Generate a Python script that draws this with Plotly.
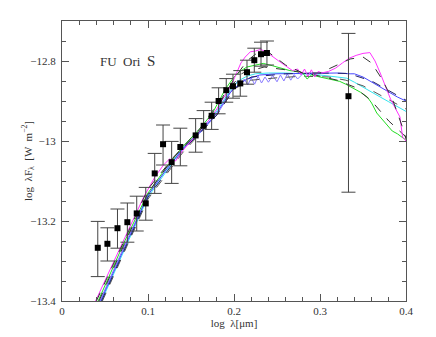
import plotly.graph_objects as go

# observed photometry
obs_x = [0.0416, 0.0528, 0.0645, 0.076, 0.0869, 0.0974, 0.1078, 0.1175, 0.1275, 0.1376,
         0.1554, 0.1647, 0.174, 0.1821, 0.191, 0.1988, 0.2073, 0.2151, 0.2236, 0.2314, 0.2383, 0.3331]
obs_y = [-13.267, -13.257, -13.218, -13.203, -13.181, -13.156, -13.081, -13.008, -13.053, -13.015,
         -12.986, -12.962, -12.937, -12.900, -12.873, -12.863, -12.856, -12.828, -12.798, -12.783, -12.780, -12.888]
err_up = [0.066, 0.040, 0.048, 0.048, 0.043, 0.040, 0.050, 0.048, 0.052, 0.047,
          0.042, 0.038, 0.034, 0.033, 0.029, 0.030, 0.032, 0.030, 0.030, 0.030, 0.030, 0.157]
err_dn = [0.072, 0.043, 0.050, 0.050, 0.044, 0.042, 0.050, 0.052, 0.053, 0.047,
          0.042, 0.040, 0.034, 0.032, 0.030, 0.030, 0.032, 0.030, 0.030, 0.030, 0.030, 0.240]

# model SEDs
mag_x = [0.039, 0.071, 0.095, 0.108, 0.118, 0.125, 0.132, 0.14, 0.15, 0.16, 0.17, 0.18, 0.19, 0.197,
         0.203, 0.208, 0.213, 0.219, 0.225, 0.231, 0.238, 0.245, 0.252, 0.26, 0.268, 0.274, 0.278,
         0.282, 0.286, 0.29, 0.294, 0.298, 0.302, 0.31, 0.318, 0.326, 0.334, 0.342, 0.35, 0.358,
         0.364, 0.37, 0.376, 0.382, 0.388, 0.393, 0.396, 0.4]
mag_y = [-13.4, -13.25, -13.14, -13.09, -13.06, -13.045, -13.05, -13.025, -13.0, -12.975, -12.95,
         -12.92, -12.885, -12.86, -12.83, -12.805, -12.79, -12.777, -12.775, -12.771, -12.778, -12.79,
         -12.8, -12.812, -12.824, -12.82, -12.835, -12.82, -12.838, -12.822, -12.84, -12.826, -12.83,
         -12.826, -12.818, -12.805, -12.793, -12.786, -12.781, -12.779, -12.8, -12.83, -12.865,
         -12.895, -12.92, -12.94, -12.99, -13.0]
mag_mx = [0.04, 0.072, 0.1, 0.13, 0.16, 0.185, 0.2, 0.215, 0.228, 0.24, 0.26, 0.28, 0.3, 0.32,
          0.335, 0.35, 0.36, 0.372, 0.385, 0.395, 0.4]
mag_my = [-13.4, -13.25, -13.12, -13.04, -12.975, -12.9, -12.845, -12.8, -12.778, -12.778, -12.81,
          -12.83, -12.83, -12.81, -12.795, -12.79, -12.805, -12.845, -12.9, -12.96, -12.995]

grn_x = [0.042, 0.073, 0.1, 0.12, 0.14, 0.16, 0.175, 0.19, 0.2, 0.207, 0.215, 0.225, 0.234, 0.245,
         0.254, 0.265, 0.273, 0.28, 0.285, 0.29, 0.3, 0.31, 0.323, 0.33, 0.339, 0.347, 0.355, 0.36,
         0.366, 0.372, 0.378, 0.384, 0.39, 0.395, 0.4]
grn_y = [-13.4, -13.25, -13.13, -13.07, -13.015, -12.97, -12.93, -12.87, -12.84, -12.826, -12.815,
         -12.81, -12.806, -12.812, -12.818, -12.824, -12.826, -12.83, -12.845, -12.835, -12.84,
         -12.845, -12.851, -12.858, -12.868, -12.878, -12.89, -12.905, -12.93, -12.945, -12.962,
         -12.975, -12.982, -12.99, -12.998]
grn_mx = [0.043, 0.074, 0.1, 0.13, 0.16, 0.19, 0.21, 0.235, 0.26, 0.29, 0.32, 0.34, 0.36, 0.38, 0.4]
grn_my = [-13.4, -13.25, -13.13, -13.04, -12.97, -12.88, -12.83, -12.815, -12.822, -12.833, -12.848,
          -12.865, -12.9, -12.95, -12.99]

blu_x = [0.045, 0.076, 0.1, 0.12, 0.14, 0.16, 0.18, 0.195, 0.205, 0.215, 0.23, 0.25, 0.27, 0.3, 0.32,
         0.335, 0.34, 0.35, 0.36, 0.37, 0.38, 0.39, 0.4]
blu_y = [-13.4, -13.25, -13.135, -13.075, -13.02, -12.98, -12.93, -12.88, -12.86, -12.845, -12.835,
         -12.832, -12.831, -12.83, -12.83, -12.832, -12.832, -12.84, -12.853, -12.864, -12.878, -12.89, -12.9]
blu_mx = [0.046, 0.077, 0.1, 0.14, 0.18, 0.2, 0.22, 0.26, 0.3, 0.33, 0.34, 0.36, 0.38, 0.4]
blu_my = [-13.4, -13.25, -13.14, -13.025, -12.935, -12.87, -12.84, -12.832, -12.83, -12.831,
          -12.836, -12.85, -12.873, -12.898]

cya_x = [0.046, 0.077, 0.1, 0.12, 0.14, 0.16, 0.18, 0.195, 0.205, 0.215, 0.225, 0.24, 0.26, 0.28,
         0.3, 0.32, 0.331, 0.34, 0.35, 0.36, 0.37, 0.38, 0.39, 0.4]
cya_y = [-13.4, -13.25, -13.14, -13.08, -13.02, -12.975, -12.925, -12.875, -12.85, -12.838, -12.832,
         -12.83, -12.83, -12.832, -12.835, -12.84, -12.843, -12.853, -12.866, -12.878, -12.89,
         -12.902, -12.913, -12.926]
cya_mx = [0.047, 0.078, 0.1, 0.14, 0.18, 0.2, 0.22, 0.25, 0.28, 0.31, 0.33, 0.35, 0.37, 0.39, 0.4]
cya_my = [-13.4, -13.25, -13.145, -13.03, -12.935, -12.87, -12.848, -12.842, -12.838, -12.84,
          -12.848, -12.862, -12.885, -12.908, -12.92]

vio_x = [0.044, 0.075, 0.1, 0.12, 0.14, 0.16, 0.18, 0.19, 0.198, 0.204, 0.208, 0.212, 0.216, 0.22,
         0.224, 0.228, 0.232, 0.236, 0.24, 0.245, 0.25, 0.254, 0.258, 0.262, 0.266, 0.27, 0.274,
         0.28, 0.29, 0.3]
vio_y = [-13.4, -13.25, -13.135, -13.075, -13.02, -12.98, -12.935, -12.9, -12.87, -12.85, -12.858,
         -12.845, -12.86, -12.842, -12.858, -12.838, -12.855, -12.84, -12.853, -12.836, -12.852,
         -12.835, -12.85, -12.832, -12.848, -12.834, -12.845, -12.832, -12.83, -12.83]

fig = go.Figure()

models = [
    (vio_x, vio_y, "#8a7cff", "solid"),
    (cya_x, cya_y, "#33e6f0", "solid"),
    (cya_mx, cya_my, "#555555", "dash"),
    (blu_x, blu_y, "#4848ff", "solid"),
    (blu_mx, blu_my, "#222266", "dash"),
    (grn_x, grn_y, "#22dd22", "solid"),
    (grn_mx, grn_my, "#333333", "dash"),
    (mag_x, mag_y, "#ff33ff", "solid"),
    (mag_mx, mag_my, "#333333", "dash"),
]
for mx, my, col, dash in models:
    fig.add_trace(go.Scatter(x=mx, y=my, mode="lines",
                             line=dict(color=col, width=1, dash=dash),
                             showlegend=False, hoverinfo="skip"))

fig.add_trace(go.Scatter(
    x=obs_x, y=obs_y, mode="markers",
    marker=dict(symbol="square", size=6, color="black"),
    error_y=dict(type="data", symmetric=False, array=err_up, arrayminus=err_dn,
                 color="#444444", thickness=1, width=7),
    showlegend=False))

fig.add_annotation(x=0.076, y=-12.8, xref="x", yref="y", showarrow=False,
                   text="FU  Ori  <span style='font-size:15px'>S</span>",
                   font=dict(family="Liberation Serif", size=13, color="#333"))

# y title placed by hand
fig.add_annotation(x=0, y=0.5, xref="paper", yref="paper", showarrow=False,
                   xanchor="center", yanchor="middle", xshift=-34, textangle=-90,
                   text="log  λF<sub>λ</sub>  [W  m<sup>−2</sup>]",
                   font=dict(family="Liberation Serif", size=11, color="#333"))

axis_common = dict(showline=True, linecolor="#555", linewidth=1, mirror="allticks",
                   ticks="inside", ticklen=7, tickcolor="#555", showgrid=False, zeroline=False,
                   automargin=False,
                   tickfont=dict(family="Liberation Serif", size=11, color="#333"))

fig.update_xaxes(range=[0, 0.4], tickvals=[0, 0.1, 0.2, 0.3, 0.4],
                 ticktext=["0", "0.1", "0.2", "0.3", "0.4"],
                 minor=dict(dtick=0.02, tick0=0, ticks="inside", ticklen=4, tickcolor="#555"),
                 title=dict(text="log  λ[μm]", font=dict(family="Liberation Serif", size=11, color="#333"),
                            standoff=0),
                 **axis_common)
fig.update_yaxes(range=[-13.4, -12.7], tickvals=[-13.4, -13.2, -13.0, -12.8],
                 ticktext=["−13.4", "−13.2", "−13", "−12.8"],
                 ticklabelstandoff=3,
                 minor=dict(dtick=0.05, tick0=-13.4, ticks="inside", ticklen=4, tickcolor="#555"),
                 **axis_common)

# the page body adds an 8px offset, so margins are shifted to land the frame where the reference has it
fig.update_layout(width=436, height=337, margin=dict(l=54, r=38, t=13, b=44),
                  paper_bgcolor="white", plot_bgcolor="white")

fig.write_html("out.html")
